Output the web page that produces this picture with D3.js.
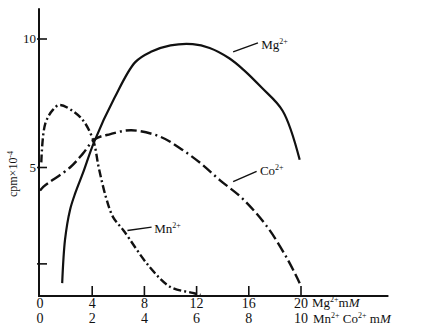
<!DOCTYPE html>
<html>
<head>
<meta charset="utf-8">
<script src="https://cdn.jsdelivr.net/npm/d3@7"></script>
<style>
  body { margin: 0; background: #fff; }
  svg text { font-family: "Liberation Serif", "DejaVu Serif", serif; fill: #111; }
</style>
</head>
<body>
<div id="chart"></div>
<script>
// Mg2+ concentration (mM) on the top x row, activity in cpm x 10^-4
const mgCurve = [
  [1.7, 0.5], [1.92, 2.2], [2.3, 3.35], [2.7, 4.0], [3.3, 4.8], [4.15, 6.0],
  [5.7, 7.7], [7.3, 9.1], [8.5, 9.5], [10, 9.75], [11.7, 9.8], [13, 9.65],
  [14.5, 9.25], [15.6, 8.8], [17, 8.1], [18.6, 7.2], [19.9, 5.3]
];
const mnCurve = [
  [0.1, 5.2], [0.4, 6.7], [1.0, 7.25], [1.5, 7.43], [3.1, 6.95], [4.05, 6.1],
  [4.5, 5.0], [5.05, 3.85], [5.6, 3.07], [6.4, 2.55], [8.4, 1.13], [10, 0.35],
  [11.7, 0.12], [12.3, 0.04]
];
const coCurve = [
  [0, 4.1], [0.25, 4.25], [2.3, 5.0], [3.3, 5.55], [4.2, 6.1], [5.4, 6.3],
  [7.0, 6.45], [9.2, 6.2], [10.7, 5.76], [12.3, 5.17], [13.8, 4.5],
  [15.5, 3.8], [17.4, 2.7], [19, 1.4], [19.9, 0.5]
];

const xTicksMg = [0, 4, 8, 12, 16, 20];
const xTicksMnCo = [0, 2, 4, 6, 8, 10];
const yTicks = [5, 10];
const yMinorTicks = [1.25];
const yTickLabels = ['5', '10'];

// label anchor (data units) and leader line from curve to label
const labels = [
  { name: 'Mg', text: [16.95, 9.6], lead: [[14.8, 9.5], [16.7, 9.85]] },
  { name: 'Co', text: [16.85, 4.7], lead: [[14.8, 4.45], [16.6, 4.85]] },
  { name: 'Mn', text: [8.75, 2.45], lead: [[6.7, 2.55], [8.55, 2.68]] }
];

const width = 424, height = 331;
const svg = d3.select('#chart').append('svg')
  .attr('width', width)
  .attr('height', height);

const x = d3.scaleLinear().domain([0, 20]).range([40, 301]);
const x2 = d3.scaleLinear().domain([0, 10]).range([40, 301]);
const y = d3.scaleLinear().domain([0, 10]).range([296, 39]);

// axes
svg.append('line')
  .attr('x1', x(0) - 1).attr('x2', x(0) - 1)
  .attr('y1', y(0)).attr('y2', y(11.2))
  .attr('stroke', '#111').attr('stroke-width', 2);
svg.append('line')
  .attr('x1', x(0) - 2).attr('x2', x(26.7))
  .attr('y1', y(0)).attr('y2', y(0))
  .attr('stroke', '#111').attr('stroke-width', 2);

// x ticks (pointing up)
svg.selectAll('.xtick')
  .data(xTicksMg.slice(1))
  .join('line')
  .attr('x1', d => x(d)).attr('x2', d => x(d))
  .attr('y1', y(0)).attr('y2', y(0) - 10)
  .attr('stroke', '#111').attr('stroke-width', 1.6);

svg.selectAll('.xlab1')
  .data(xTicksMg)
  .join('text')
  .attr('x', d => x(d))
  .attr('y', 308)
  .attr('text-anchor', 'middle')
  .attr('font-size', 14)
  .text(d => d);

svg.selectAll('.xlab2')
  .data(xTicksMnCo)
  .join('text')
  .attr('x', d => x2(d))
  .attr('y', 323)
  .attr('text-anchor', 'middle')
  .attr('font-size', 14)
  .text(d => d);

// unit labels after the last tick
const u1 = svg.append('text').attr('x', 312).attr('y', 307).attr('font-size', 13);
u1.append('tspan').text('Mg');
u1.append('tspan').attr('font-size', 8).attr('dy', -5).text('2+');
u1.append('tspan').attr('dy', 5).text('m');
u1.append('tspan').attr('font-style', 'italic').text('M');

const u2 = svg.append('text').attr('x', 313).attr('y', 323).attr('font-size', 13);
u2.append('tspan').text('Mn');
u2.append('tspan').attr('font-size', 8).attr('dy', -5).text('2+');
u2.append('tspan').attr('dy', 5).text(' Co');
u2.append('tspan').attr('font-size', 8).attr('dy', -5).text('2+');
u2.append('tspan').attr('dy', 5).text(' m');
u2.append('tspan').attr('font-style', 'italic').text('M');

// y ticks (pointing right)
svg.selectAll('.ytick')
  .data(yTicks.concat(yMinorTicks))
  .join('line')
  .attr('x1', x(0) - 3).attr('x2', x(0) + 7)
  .attr('y1', d => y(d)).attr('y2', d => y(d))
  .attr('stroke', '#111').attr('stroke-width', 1.6);

svg.selectAll('.ylab')
  .data(yTicks)
  .join('text')
  .attr('x', x(0) - 4)
  .attr('y', d => y(d) + 4)
  .attr('text-anchor', 'end')
  .attr('font-size', 13)
  .text((d, i) => yTickLabels[i]);

// y axis title
const yt = svg.append('text')
  .attr('transform', 'translate(17,174) rotate(-90)')
  .attr('text-anchor', 'middle')
  .attr('font-size', 12);
yt.append('tspan').text('cpm×10');
yt.append('tspan').attr('font-size', 8).attr('dy', -4).text('-4');

// curves
const line = d3.line()
  .x(d => x(d[0]))
  .y(d => y(d[1]))
  .curve(d3.curveCatmullRom.alpha(0.5));

svg.append('path').datum(mgCurve)
  .attr('d', line).attr('fill', 'none')
  .attr('stroke', '#111').attr('stroke-width', 2.2);

svg.append('path').datum(coCurve)
  .attr('d', line).attr('fill', 'none')
  .attr('stroke', '#111').attr('stroke-width', 2.4)
  .attr('stroke-dasharray', '11,4,11,4,2,4');

svg.append('path').datum(mnCurve)
  .attr('d', line).attr('fill', 'none')
  .attr('stroke', '#111').attr('stroke-width', 2.4)
  .attr('stroke-dasharray', '8,3,2,3');

// curve labels with leader lines
labels.forEach(l => {
  svg.append('line')
    .attr('x1', x(l.lead[0][0])).attr('y1', y(l.lead[0][1]))
    .attr('x2', x(l.lead[1][0])).attr('y2', y(l.lead[1][1]))
    .attr('stroke', '#111').attr('stroke-width', 1.5);
  const t = svg.append('text')
    .attr('x', x(l.text[0])).attr('y', y(l.text[1]))
    .attr('font-size', 13);
  t.append('tspan').text(l.name);
  t.append('tspan').attr('font-size', 8).attr('dy', -5).text('2+');
});
</script>
</body>
</html>
